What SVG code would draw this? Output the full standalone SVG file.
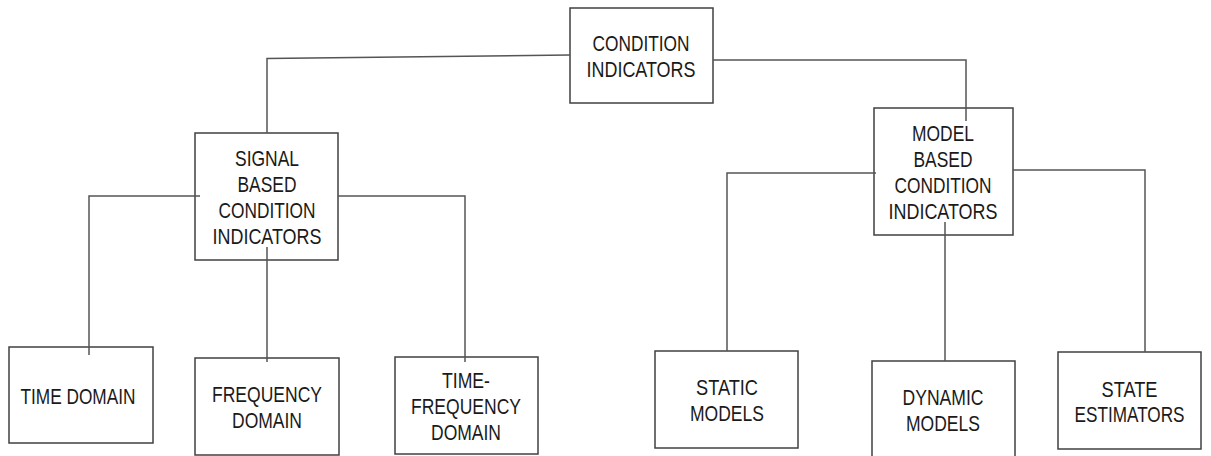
<svg xmlns="http://www.w3.org/2000/svg" width="1211" height="456" viewBox="0 0 1211 456">
<style>
rect.box{fill:none;stroke:#404040;stroke-width:1.5}
text{font-family:"Liberation Sans",Arial,sans-serif;font-size:22px;fill:#1a1a1a;text-anchor:middle}
#connectors path{fill:none;stroke:#555;stroke-width:1.5}
</style>
<rect width="1211" height="456" fill="#fff"/>
<g id="condition-indicators">
<rect class="box" x="570" y="8" width="143" height="95"/>
<text x="641" y="51" textLength="97" lengthAdjust="spacingAndGlyphs">CONDITION</text>
<text x="641" y="77" textLength="109" lengthAdjust="spacingAndGlyphs">INDICATORS</text>
</g>
<g id="signal-based">
<rect class="box" x="195" y="133" width="143" height="127"/>
<text x="267" y="166" textLength="64" lengthAdjust="spacingAndGlyphs">SIGNAL</text>
<text x="267" y="192" textLength="59" lengthAdjust="spacingAndGlyphs">BASED</text>
<text x="267" y="218" textLength="97" lengthAdjust="spacingAndGlyphs">CONDITION</text>
<text x="267" y="244" textLength="109" lengthAdjust="spacingAndGlyphs">INDICATORS</text>
</g>
<g id="model-based">
<rect class="box" x="874" y="108" width="139" height="127"/>
<text x="943" y="141" textLength="62" lengthAdjust="spacingAndGlyphs">MODEL</text>
<text x="943" y="167" textLength="59" lengthAdjust="spacingAndGlyphs">BASED</text>
<text x="943" y="193" textLength="97" lengthAdjust="spacingAndGlyphs">CONDITION</text>
<text x="943" y="219" textLength="109" lengthAdjust="spacingAndGlyphs">INDICATORS</text>
</g>
<g id="time-domain">
<rect class="box" x="9" y="347" width="144" height="96"/>
<text x="78" y="404" textLength="115" lengthAdjust="spacingAndGlyphs">TIME DOMAIN</text>
</g>
<g id="frequency-domain">
<rect class="box" x="195" y="358" width="144" height="97"/>
<text x="267" y="402" textLength="110" lengthAdjust="spacingAndGlyphs">FREQUENCY</text>
<text x="267" y="428" textLength="70" lengthAdjust="spacingAndGlyphs">DOMAIN</text>
</g>
<g id="time-frequency-domain">
<rect class="box" x="395" y="357" width="143" height="97"/>
<text x="466" y="388" textLength="48" lengthAdjust="spacingAndGlyphs">TIME-</text>
<text x="466" y="414" textLength="110" lengthAdjust="spacingAndGlyphs">FREQUENCY</text>
<text x="466" y="440" textLength="70" lengthAdjust="spacingAndGlyphs">DOMAIN</text>
</g>
<g id="static-models">
<rect class="box" x="655" y="351" width="143" height="97"/>
<text x="727" y="395" textLength="62" lengthAdjust="spacingAndGlyphs">STATIC</text>
<text x="727" y="421" textLength="74" lengthAdjust="spacingAndGlyphs">MODELS</text>
</g>
<g id="dynamic-models">
<rect class="box" x="872" y="361" width="143" height="96"/>
<text x="943" y="405" textLength="81" lengthAdjust="spacingAndGlyphs">DYNAMIC</text>
<text x="943" y="431" textLength="74" lengthAdjust="spacingAndGlyphs">MODELS</text>
</g>
<g id="state-estimators">
<rect class="box" x="1058" y="352" width="143" height="97"/>
<text x="1129.5" y="397" textLength="56" lengthAdjust="spacingAndGlyphs">STATE</text>
<text x="1129.5" y="422" textLength="110" lengthAdjust="spacingAndGlyphs">ESTIMATORS</text>
</g>
<g id="connectors">
<path d="M570,55 L267,58.5 L267,133"/>
<path d="M713,60 L966,60 L966,121"/>
<path d="M200,196 L89,196 L89,355"/>
<path d="M338,196 L465,196 L465,362"/>
<path d="M267,247 L267,362"/>
<path d="M876,173 L727,173 L727,351"/>
<path d="M1013,170 L1145,170 L1145,352"/>
<path d="M945,222 L945,361"/>
</g>
</svg>
